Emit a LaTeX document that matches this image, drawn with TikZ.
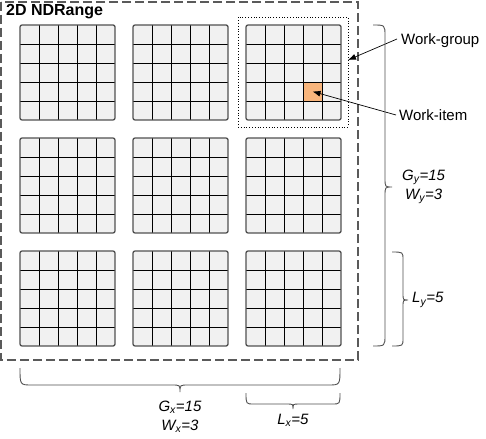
\documentclass[tikz,border=0pt]{standalone}
\usepackage{fontspec}
\setmainfont{Liberation Sans}
\usepackage{tikz}
\usetikzlibrary{arrows.meta, positioning, calc}
\definecolor{cellgray}{RGB}{241,241,241}
\definecolor{framegray}{RGB}{80,80,80}
\definecolor{dashgray}{RGB}{90,90,90}
\definecolor{itemorange}{RGB}{248,181,124}
\tikzset{
  lbl/.style={font=\fontsize{15}{19}\selectfont, inner sep=0pt, align=center},
  cellline/.style={line width=0.9pt, color=black},
  gridframe/.style={line width=1.3pt, color=framegray, rounded corners=2pt},
  ndbox/.style={draw=dashgray, line width=1.2pt, dash pattern=on 9pt off 4pt},
  wgbox/.style={draw=black, dotted, line width=0.8pt, minimum width=110pt, minimum height=110pt, inner sep=0pt},
  witem/.style={draw=black, fill=itemorange, line width=0.9pt, minimum size=19pt, inner sep=0pt},
  ptr/.style={-{Latex[length=8pt, width=6pt]}, line width=0.7pt, color=black},
  brc/.style={line width=0.9pt, color=framegray}
}
\begin{document}
\begin{tikzpicture}[x=1pt, y=-1pt]
  \useasboundingbox (0,0) rectangle (486,438);
  % NDRange
  \draw[ndbox] (1,2) rectangle (358,360);
  \node[lbl, anchor=west, font=\fontsize{16}{19}\selectfont\bfseries] (title) at (6,11.5) {2D NDRange};

  % Work-groups
  \foreach \c in {0,1,2} {
    \foreach \r in {0,1,2} {
      \begin{scope}[shift={(20+113*\c, 25+113*\r)}]
        \fill[cellgray] (0,0) rectangle (95,95);
        \foreach \k in {19,38,57,76} {
          \draw[cellline] (\k,0) -- (\k,95);
          \draw[cellline] (0,\k) -- (95,\k);
        }
        \draw[gridframe] (0,0) rectangle (95,95);
      \end{scope}
    }
  }
  \node[wgbox] (wg) at (293,72) {};
  \node[witem] (wi) at (312.5,91.5) {};
  \coordinate (wgpt) at (348,60);

  % Labels
  \node[lbl, anchor=west] (wglbl) at (401,41) {Work-group};
  \node[lbl, anchor=west] (wilbl) at (399,115) {Work-item};
  \draw[ptr] (wglbl.west) ++(-4,-2) coordinate (wgs) -- (wgpt);
  \draw[ptr] (wilbl.west) ++(-3,0) coordinate (wis) -- (wi.center);

  % Braces (right)
  \draw[brc] (373,25) .. controls (385,25) .. (385,36) -- (385,178)
    .. controls (385,187) .. (392,187) .. controls (385,187) .. (385,196)
    -- (385,335) .. controls (385,346) .. (373,346);
  \node[lbl, anchor=west] (gy) at (402,187) {\textit{G\textsubscript{y}=15}\\\textit{W\textsubscript{y}=3}};
  \draw[brc] (392,252) .. controls (403,252) .. (403,260) -- (403,293)
    .. controls (403,300) .. (408,300) .. controls (403,300) .. (403,307)
    -- (403,338) .. controls (403,346) .. (392,346);
  \node[lbl, anchor=west] (ly) at (412,300) {\textit{L\textsubscript{y}=5}};

  % Braces (bottom)
  \draw[brc] (20,368) .. controls (20,385) .. (32,385) -- (172,385)
    .. controls (180,385) .. (180,392) .. controls (180,385) .. (188,385)
    -- (328,385) .. controls (340,385) .. (340,368);
  \node[lbl] (gx) at (180,417) {\textit{G\textsubscript{x}=15}\\\textit{W\textsubscript{x}=3}};
  \draw[brc] (246,393) .. controls (246,404) .. (254,404) -- (287,404)
    .. controls (293,404) .. (293,409) .. controls (293,404) .. (299,404)
    -- (332,404) .. controls (340,404) .. (340,393);
  \node[lbl] (lx) at (293,420) {\textit{L\textsubscript{x}=5}};
\end{tikzpicture}
\end{document}
